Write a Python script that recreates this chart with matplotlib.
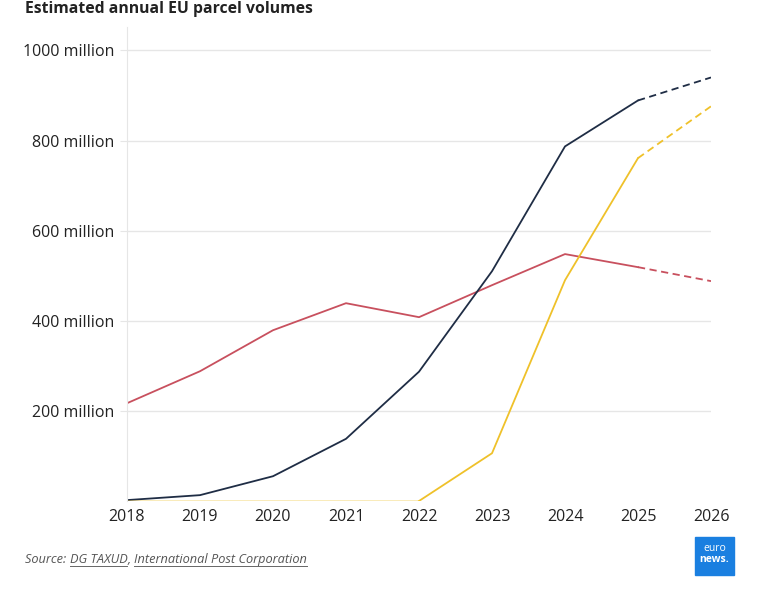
import matplotlib.pyplot as plt
from matplotlib.patches import Rectangle
from matplotlib.lines import Line2D

# Данные (млн посылок), 2026 - прогноз
years = [2018, 2019, 2020, 2021, 2022, 2023, 2024, 2025, 2026]
navy = [2, 13, 55, 138, 287, 510, 787, 889, 940]
red = [217, 288, 379, 439, 408, 479, 548, 519, 488]
yellow = [0, 0, 0, 0, 0, 106, 490, 761, 876]
ytick_vals = [200, 400, 600, 800, 1000]
ytick_labels = ['200 million', '400 million', '600 million', '800 million', '1000 million']

c_navy = '#1f2d45'
c_red = '#c8505e'
c_yellow = '#efc12a'

plt.rcParams['font.family'] = ['Open Sans', 'DejaVu Sans']

fig = plt.figure(figsize=(7.72, 6), dpi=100)
ax = fig.add_axes([0.1645, 0.165, 0.7565, 0.79])

for vals, col in [(red, c_red), (navy, c_navy)]:
    ax.plot(years[:-1], vals[:-1], color=col, lw=1.3)
    ax.plot(years[-2:], vals[-2:], color=col, lw=1.3, ls=(0, (4, 2.5)))
# жёлтая линия: нулевой участок бледный
ax.plot(years[:5], yellow[:5], color=c_yellow, lw=1.3, alpha=0.35)
ax.plot(years[4:-1], yellow[4:-1], color=c_yellow, lw=1.3)
ax.plot(years[-2:], yellow[-2:], color=c_yellow, lw=1.3, ls=(0, (4, 2.5)))

ax.set_xlim(2018, 2026)
ax.set_ylim(0, 1052)
ax.set_xticks(years)
ax.set_xticklabels([str(y) for y in years])
ax.set_yticks(ytick_vals)
ax.set_yticklabels(ytick_labels)
ax.grid(axis='y', color='#e6e6e6', lw=1)
ax.set_axisbelow(True)
for s in ['top', 'right', 'bottom']:
    ax.spines[s].set_visible(False)
ax.spines['left'].set_color('#e6e6e6')
ax.tick_params(axis='y', length=5, color='#e6e6e6', labelsize=11.5, labelcolor='#222222', pad=4)
ax.tick_params(axis='x', length=0, labelsize=11.5, labelcolor='#222222', pad=6)

# заголовок
fig.text(25 / 772, 1 - 13 / 600, 'Estimated annual EU parcel volumes', fontsize=11.3,
         fontweight='bold', color='#222222', va='baseline', ha='left')

# источник
fig.canvas.draw()
r = fig.canvas.get_renderer()
x = 25 / 772
yb = 1 - 563 / 600
parts = [('Source: ', False), ('DG TAXUD', True), (', ', False), ('International Post Corporation', True)]
for txt, ul in parts:
    t = fig.text(x, yb, txt, fontsize=9.2, style='italic', color='#555555', va='baseline', ha='left')
    bb = t.get_window_extent(r)
    x1 = x + bb.width / fig.bbox.width
    if ul:
        fig.add_artist(Line2D([x, x1], [yb - 2.5 / 600, yb - 2.5 / 600], color='#666666', lw=0.7,
                              transform=fig.transFigure))
    x = x1

# логотип
fig.add_artist(Rectangle((695 / 772, 1 - 575 / 600), 39 / 772, 38 / 600, color='#1a7fe0',
                         transform=fig.transFigure))
fig.text(714.5 / 772, 1 - 551 / 600, 'euro', fontsize=7.5, color='white', ha='center', va='baseline')
fig.text(714.5 / 772, 1 - 562 / 600, 'news.', fontsize=7.5, color='white', fontweight='bold',
         ha='center', va='baseline')

fig.savefig('out.png', dpi=100)
